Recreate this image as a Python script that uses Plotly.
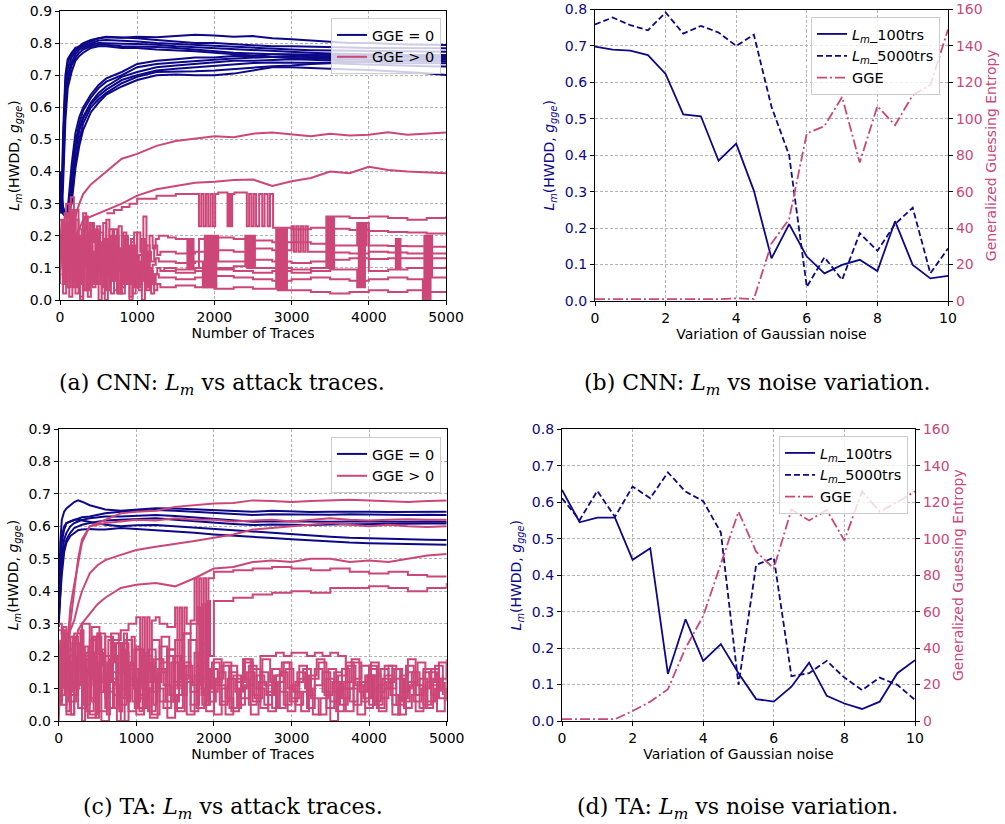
import plotly.graph_objects as go

# ---------------------------------------------------------------- colours
NAVY = "#0d0887"
PINK = "#cc4778"

# ---------------------------------------------------------------- x grids
# attack-trace axis, sampling grid for the smooth curves
XT = [0, 20, 40, 70, 100, 150, 200, 250, 300, 400, 500, 600, 800, 1000, 1250,
      1500, 1750, 2000, 2250, 2500, 2750, 3000, 3250, 3500, 3750, 4000, 4250,
      4500, 4750, 5000]
# dense grids for the unstable (step-like) runs in the first traces
XE1 = [0, 40, 80, 120, 160, 200, 240, 280, 320, 360, 400, 440, 480, 520, 560,
       600, 640, 680, 720, 760, 800, 840, 880, 920, 960, 1000, 1040, 1080,
       1120, 1160, 1200, 1240, 1280]
XE2 = [20, 60, 100, 140, 180, 220, 260, 300, 340, 380, 420, 460, 500, 540,
       580, 620, 660, 700, 740, 780, 820, 860, 900, 940, 980, 1020, 1060, 1100,
       1140, 1180, 1220, 1260, 1300]
XN1 = [0, 100, 200, 300, 400, 500, 600, 700, 800, 900, 1000, 1100, 1200, 1300,
       1400, 1500, 1600, 1700, 1800, 1900, 2000, 2100, 2200, 2300, 2400, 2500,
       2600, 2700, 2800, 2900, 3000, 3100, 3200, 3300, 3400, 3500, 3600, 3700,
       3800, 3900, 4000, 4100, 4200, 4300, 4400, 4500, 4600, 4700, 4800, 4900,
       5000]
XN2 = [50, 150, 250, 350, 450, 550, 650, 750, 850, 950, 1050, 1150, 1250, 1350,
       1450, 1550, 1650, 1750, 1850, 1950, 2050, 2150, 2250, 2350, 2450, 2550,
       2650, 2750, 2850, 2950, 3050, 3150, 3250, 3350, 3450, 3550, 3650, 3750,
       3850, 3950, 4050, 4150, 4250, 4350, 4450, 4550, 4650, 4750, 4850, 4950]
XN3 = [25, 125, 225, 325, 425, 525, 625, 725, 825, 925, 1025, 1125, 1225, 1325,
       1425, 1525, 1625, 1725, 1825, 1925, 2025, 2125, 2225, 2325, 2425, 2525,
       2625, 2725, 2825, 2925, 3025, 3125, 3225, 3325, 3425, 3525, 3625, 3725,
       3825, 3925, 4025, 4125, 4225, 4325, 4425, 4525, 4625, 4725, 4825, 4925]
XN4 = [75, 175, 275, 375, 475, 575, 675, 775, 875, 975, 1075, 1175, 1275, 1375,
       1475, 1575, 1675, 1775, 1875, 1975, 2075, 2175, 2275, 2375, 2475, 2575,
       2675, 2775, 2875, 2975, 3075, 3175, 3275, 3375, 3475, 3575, 3675, 3775,
       3875, 3975, 4075, 4175, 4275, 4375, 4475, 4575, 4675, 4775, 4875, 4975]
# noise-variation axis
XNOISE = [0, 0.5, 1, 1.5, 2, 2.5, 3, 3.5, 4, 4.5, 5, 5.5, 6, 6.5, 7, 7.5, 8,
          8.5, 9, 9.5, 10]

# ---------------------------------------------------------------- (a) CNN, GGE = 0
CNN_ZERO = [
    [0.36, 0.28, 0.52, 0.70, 0.75, 0.77, 0.785, 0.79, 0.80, 0.81, 0.815, 0.818, 0.817, 0.82, 0.818,
     0.822, 0.826, 0.824, 0.82, 0.822, 0.815, 0.812, 0.808, 0.805, 0.80, 0.80, 0.797, 0.796, 0.795, 0.794],
    [0.33, 0.27, 0.48, 0.68, 0.74, 0.765, 0.78, 0.79, 0.795, 0.805, 0.815, 0.82, 0.818, 0.815, 0.81,
     0.805, 0.80, 0.80, 0.797, 0.795, 0.79, 0.79, 0.788, 0.787, 0.786, 0.785, 0.785, 0.784, 0.784, 0.784],
    [0.38, 0.29, 0.45, 0.66, 0.72, 0.755, 0.775, 0.785, 0.79, 0.80, 0.808, 0.81, 0.808, 0.805, 0.80,
     0.797, 0.795, 0.79, 0.787, 0.785, 0.782, 0.78, 0.778, 0.777, 0.776, 0.775, 0.774, 0.774, 0.773, 0.773],
    [0.31, 0.27, 0.42, 0.62, 0.70, 0.74, 0.765, 0.78, 0.785, 0.795, 0.80, 0.80, 0.798, 0.797, 0.795,
     0.79, 0.787, 0.785, 0.78, 0.778, 0.775, 0.772, 0.77, 0.768, 0.766, 0.765, 0.764, 0.763, 0.763, 0.763],
    [0.34, 0.28, 0.40, 0.60, 0.68, 0.73, 0.755, 0.77, 0.78, 0.79, 0.795, 0.795, 0.79, 0.79, 0.788,
     0.785, 0.78, 0.775, 0.77, 0.768, 0.765, 0.762, 0.76, 0.758, 0.757, 0.756, 0.755, 0.754, 0.753, 0.753],
    [0.30, 0.27, 0.36, 0.56, 0.66, 0.71, 0.745, 0.76, 0.77, 0.785, 0.79, 0.79, 0.785, 0.785, 0.78,
     0.778, 0.775, 0.77, 0.765, 0.76, 0.757, 0.754, 0.752, 0.75, 0.748, 0.746, 0.745, 0.744, 0.743, 0.743],
    [0.40, 0.33, 0.29, 0.27, 0.28, 0.42, 0.52, 0.57, 0.60, 0.64, 0.67, 0.69, 0.71, 0.735, 0.745,
     0.75, 0.755, 0.755, 0.76, 0.76, 0.765, 0.765, 0.765, 0.763, 0.762, 0.76, 0.76, 0.76, 0.758, 0.757],
    [0.37, 0.31, 0.28, 0.265, 0.27, 0.38, 0.49, 0.55, 0.59, 0.63, 0.66, 0.68, 0.70, 0.725, 0.735,
     0.74, 0.745, 0.748, 0.752, 0.755, 0.757, 0.758, 0.757, 0.755, 0.753, 0.75, 0.748, 0.747, 0.745, 0.748],
    [0.35, 0.30, 0.27, 0.26, 0.265, 0.34, 0.46, 0.53, 0.57, 0.615, 0.645, 0.665, 0.695, 0.71, 0.725,
     0.73, 0.735, 0.74, 0.745, 0.745, 0.748, 0.75, 0.748, 0.745, 0.742, 0.74, 0.738, 0.737, 0.737, 0.737],
    [0.39, 0.32, 0.28, 0.27, 0.28, 0.36, 0.47, 0.53, 0.565, 0.61, 0.635, 0.655, 0.685, 0.70, 0.715,
     0.72, 0.725, 0.73, 0.735, 0.738, 0.74, 0.74, 0.74, 0.738, 0.735, 0.733, 0.73, 0.73, 0.728, 0.727],
    [0.33, 0.29, 0.27, 0.26, 0.26, 0.31, 0.43, 0.50, 0.55, 0.60, 0.625, 0.645, 0.675, 0.695, 0.71,
     0.71, 0.712, 0.715, 0.72, 0.725, 0.728, 0.73, 0.735, 0.737, 0.74, 0.742, 0.745, 0.747, 0.75, 0.753],
    [0.36, 0.30, 0.27, 0.26, 0.26, 0.30, 0.41, 0.48, 0.53, 0.585, 0.615, 0.64, 0.665, 0.685, 0.70,
     0.702, 0.70, 0.70, 0.705, 0.715, 0.725, 0.725, 0.722, 0.72, 0.718, 0.716, 0.713, 0.71, 0.706, 0.701],
]

# ---------------------------------------------------------------- (a) CNN, GGE > 0 (smooth runs)
CNN_POS_SMOOTH = [
    [0.05, 0.22, 0.08, 0.18, 0.12, 0.20, 0.26, 0.30, 0.33, 0.36, 0.38, 0.40, 0.44, 0.455, 0.48,
     0.495, 0.503, 0.51, 0.507, 0.518, 0.522, 0.515, 0.51, 0.518, 0.512, 0.515, 0.522, 0.515, 0.518, 0.522],
    [0.10, 0.25, 0.05, 0.20, 0.15, 0.24, 0.20, 0.22, 0.25, 0.26, 0.27, 0.28, 0.30, 0.325, 0.345,
     0.355, 0.365, 0.368, 0.374, 0.375, 0.355, 0.37, 0.38, 0.40, 0.395, 0.415, 0.405, 0.40, 0.397, 0.395],
]

# (a) CNN, GGE > 0 (unstable runs, drawn as steps)
CNN_P3_X = [600, 700, 800, 900, 1000, 1250, 1500, 1800, 1830, 1860, 1890, 1920, 1950, 1980, 2010,
            2050, 2170, 2190, 2210, 2230, 2260, 2420, 2450, 2480, 2510, 2540, 2580, 2620, 2650,
            2690, 2720, 2760, 3000, 3250, 3500, 3750, 4000, 4250, 4500, 4750, 5000]
CNN_P3_Y = [0.27, 0.28, 0.29, 0.30, 0.315, 0.325, 0.33, 0.23, 0.33, 0.23, 0.33, 0.23, 0.33, 0.23, 0.33,
            0.335, 0.23, 0.33, 0.23, 0.33, 0.335, 0.23, 0.33, 0.23, 0.33, 0.23, 0.33, 0.23, 0.33,
            0.23, 0.33, 0.225, 0.22, 0.225, 0.222, 0.218, 0.215, 0.212, 0.21, 0.207, 0.205]

CNN_N1_EARLY = [0.25, 0.05, 0.30, 0.12, 0.28, 0.02, 0.22, 0.15, 0.26, 0.08, 0.24, 0.18, 0.05, 0.21,
                0.12, 0.25, 0.07, 0.19, 0.14, 0.23, 0.04, 0.20, 0.11, 0.18, 0.06, 0.21, 0.15, 0.26,
                0.10, 0.20, 0.16, 0.19, 0.20]
CNN_N1_LATE_X = [1400, 1500, 1650, 1670, 1690, 1710, 1730, 1800, 2000, 2250, 2500, 2750, 3000, 3250,
                 3500, 3850, 3870, 3890, 3910, 3930, 3950, 3970, 4000, 4250, 4500, 4750, 5000]
CNN_N1_LATE_Y = [0.195, 0.19, 0.10, 0.19, 0.10, 0.19, 0.10, 0.19, 0.195, 0.19, 0.185, 0.18, 0.18, 0.175,
                 0.17, 0.24, 0.17, 0.24, 0.17, 0.24, 0.17, 0.24, 0.17, 0.168, 0.167, 0.166, 0.166]

CNN_N2_EARLY = [0.08, 0.27, 0.10, 0.32, 0.04, 0.20, 0.13, 0.27, 0.03, 0.17, 0.10, 0.22, 0.14, 0.02,
                0.19, 0.09, 0.20, 0.03, 0.16, 0.11, 0.21, 0.08, 0.17, 0.02, 0.14, 0.10, 0.19, 0.06,
                0.15, 0.12, 0.17, 0.14, 0.15]
CNN_N2_LATE_X = [1350, 1500, 1750, 2000, 2250, 2500, 2750, 3000, 3030, 3060, 3090, 3120, 3150, 3180,
                 3210, 3250, 3500, 3750, 4000, 4250, 4500, 4750, 5000]
CNN_N2_LATE_Y = [0.15, 0.145, 0.15, 0.155, 0.15, 0.16, 0.155, 0.23, 0.15, 0.23, 0.15, 0.23, 0.15, 0.23,
                 0.15, 0.15, 0.148, 0.145, 0.15, 0.148, 0.145, 0.145, 0.145]

CNN_N3_EARLY = [0.15, 0.02, 0.24, 0.06, 0.18, 0.28, 0.05, 0.12, 0.20, 0.01, 0.15, 0.07, 0.23, 0.10,
                0.04, 0.16, 0.22, 0.06, 0.12, 0.02, 0.15, 0.19, 0.05, 0.13, 0.21, 0.04, 0.12, 0.08,
                0.17, 0.05, 0.11, 0.13, 0.12]
CNN_N3_LATE_X = [1350, 1500, 1750, 1850, 1875, 1900, 1925, 1950, 1975, 2000, 2025, 2050, 2250, 2500,
                 2750, 3000, 3250, 3500, 3750, 4000, 4250, 4500, 4750, 5000]
CNN_N3_LATE_Y = [0.12, 0.115, 0.12, 0.04, 0.20, 0.04, 0.20, 0.04, 0.20, 0.04, 0.20, 0.12, 0.12, 0.125,
                 0.12, 0.115, 0.12, 0.125, 0.13, 0.128, 0.13, 0.13, 0.13, 0.13]

CNN_N4_EARLY = [0.20, 0.12, 0.04, 0.26, 0.09, 0.16, 0.00, 0.19, 0.11, 0.24, 0.06, 0.14, 0.00, 0.18,
                0.08, 0.13, 0.02, 0.20, 0.09, 0.16, 0.05, 0.12, 0.00, 0.17, 0.09, 0.03, 0.13, 0.05,
                0.10, 0.02, 0.08, 0.10, 0.09]
CNN_N4_LATE_X = [1350, 1500, 1750, 2000, 2250, 2400, 2425, 2450, 2475, 2500, 2525, 2750, 3000, 3250,
                 3450, 3475, 3500, 3525, 3550, 3750, 4000, 4250, 4500, 4750, 5000]
CNN_N4_LATE_Y = [0.10, 0.095, 0.10, 0.10, 0.105, 0.20, 0.10, 0.20, 0.10, 0.20, 0.10, 0.10, 0.095, 0.10,
                 0.26, 0.10, 0.26, 0.10, 0.26, 0.255, 0.26, 0.255, 0.25, 0.255, 0.26]

CNN_N5_EARLY = [0.18, 0.06, 0.22, 0.01, 0.14, 0.25, 0.09, 0.17, 0.03, 0.21, 0.12, 0.05, 0.18, 0.09,
                0.24, 0.03, 0.13, 0.07, 0.20, 0.10, 0.02, 0.15, 0.07, 0.19, 0.04, 0.11, 0.06, 0.16,
                0.03, 0.09, 0.05, 0.08, 0.07]
CNN_N5_LATE_X = [1350, 1500, 1750, 2000, 2250, 2500, 2750, 3000, 3250, 3500, 3750, 4000, 4250, 4500,
                 4700, 4720, 4740, 4760, 4780, 4800, 4820, 5000]
CNN_N5_LATE_Y = [0.07, 0.065, 0.07, 0.075, 0.07, 0.065, 0.06, 0.065, 0.07, 0.065, 0.06, 0.065, 0.07,
                 0.065, 0.00, 0.20, 0.00, 0.20, 0.00, 0.20, 0.07, 0.07]

CNN_N6_EARLY = [0.05, 0.20, 0.12, 0.28, 0.06, 0.16, 0.01, 0.23, 0.10, 0.15, 0.04, 0.19, 0.08, 0.13,
                0.00, 0.17, 0.06, 0.22, 0.02, 0.12, 0.07, 0.16, 0.01, 0.10, 0.05, 0.14, 0.00, 0.08,
                0.04, 0.06, 0.03, 0.05, 0.04]
CNN_N6_LATE_X = [1350, 1500, 1750, 2000, 2250, 2500, 2800, 2820, 2840, 2860, 2880, 2900, 2920, 2940,
                 3250, 3500, 3750, 4000, 4250, 4500, 4750, 5000]
CNN_N6_LATE_Y = [0.04, 0.045, 0.04, 0.035, 0.04, 0.035, 0.22, 0.03, 0.22, 0.03, 0.22, 0.03, 0.22, 0.03,
                 0.025, 0.02, 0.025, 0.03, 0.025, 0.03, 0.025, 0.025]

CNN_N7_X = [1300, 1500, 1750, 2000, 2250, 2500, 2750, 3000, 3250, 3500, 3850, 3870, 3890, 3910, 3930,
            3950, 4000, 4250, 4350, 4370, 4390, 4410, 4500, 4750, 5000]
CNN_N7_Y = [0.09, 0.085, 0.09, 0.095, 0.09, 0.085, 0.09, 0.085, 0.09, 0.095, 0.04, 0.22, 0.04, 0.22,
            0.04, 0.22, 0.09, 0.095, 0.19, 0.095, 0.19, 0.095, 0.10, 0.10, 0.104]

# ---------------------------------------------------------------- (c) TA, GGE = 0
TA_ZERO = [
    [0.30, 0.55, 0.62, 0.645, 0.655, 0.665, 0.675, 0.68, 0.676, 0.665, 0.658, 0.652, 0.648, 0.652, 0.656,
     0.655, 0.652, 0.65, 0.648, 0.645, 0.648, 0.646, 0.644, 0.645, 0.646, 0.645, 0.644, 0.645, 0.646, 0.645],
    [0.35, 0.45, 0.55, 0.59, 0.61, 0.615, 0.62, 0.625, 0.628, 0.63, 0.635, 0.64, 0.645, 0.648, 0.65,
     0.648, 0.645, 0.642, 0.64, 0.635, 0.637, 0.636, 0.635, 0.636, 0.637, 0.636, 0.635, 0.635, 0.636, 0.635],
    [0.29, 0.40, 0.50, 0.56, 0.58, 0.60, 0.61, 0.615, 0.62, 0.625, 0.628, 0.63, 0.63, 0.632, 0.635,
     0.632, 0.628, 0.624, 0.62, 0.614, 0.616, 0.615, 0.613, 0.614, 0.615, 0.614, 0.613, 0.614, 0.615, 0.614],
    [0.33, 0.42, 0.48, 0.53, 0.56, 0.58, 0.595, 0.60, 0.605, 0.61, 0.615, 0.618, 0.62, 0.622, 0.625,
     0.62, 0.615, 0.61, 0.607, 0.604, 0.606, 0.605, 0.604, 0.606, 0.607, 0.608, 0.607, 0.608, 0.609, 0.609],
    [0.38, 0.50, 0.57, 0.60, 0.61, 0.615, 0.62, 0.62, 0.618, 0.612, 0.608, 0.605, 0.60, 0.603, 0.604,
     0.60, 0.595, 0.59, 0.587, 0.584, 0.58, 0.575, 0.572, 0.568, 0.565, 0.563, 0.562, 0.56, 0.559, 0.558],
    [0.31, 0.38, 0.45, 0.52, 0.55, 0.57, 0.58, 0.588, 0.59, 0.592, 0.59, 0.59, 0.595, 0.592, 0.589,
     0.585, 0.58, 0.575, 0.572, 0.568, 0.564, 0.56, 0.556, 0.553, 0.55, 0.548, 0.547, 0.545, 0.544, 0.543],
]

# ---------------------------------------------------------------- (c) TA, GGE > 0 (smooth runs)
TA_POS_SMOOTH = [
    [0.10, 0.25, 0.15, 0.28, 0.20, 0.35, 0.42, 0.48, 0.55, 0.60, 0.61, 0.62, 0.64, 0.645, 0.648,
     0.66, 0.665, 0.67, 0.672, 0.68, 0.678, 0.675, 0.678, 0.68, 0.682, 0.68, 0.677, 0.675, 0.678, 0.68],
    [0.05, 0.20, 0.10, 0.25, 0.15, 0.30, 0.40, 0.50, 0.56, 0.60, 0.605, 0.61, 0.615, 0.62, 0.618,
     0.625, 0.62, 0.62, 0.615, 0.618, 0.62, 0.615, 0.62, 0.625, 0.62, 0.618, 0.62, 0.622, 0.62, 0.62],
    [0.12, 0.05, 0.20, 0.10, 0.22, 0.28, 0.31, 0.36, 0.40, 0.455, 0.48, 0.496, 0.512, 0.527, 0.537,
     0.545, 0.555, 0.565, 0.575, 0.59, 0.595, 0.60, 0.605, 0.61, 0.605, 0.60, 0.605, 0.60, 0.598, 0.60],
    [0.00, 0.12, 0.05, 0.18, 0.10, 0.15, 0.22, 0.28, 0.30, 0.33, 0.36, 0.38, 0.41, 0.42, 0.425,
     0.415, 0.44, 0.47, 0.475, 0.49, 0.495, 0.49, 0.50, 0.50, 0.49, 0.495, 0.49, 0.50, 0.51, 0.515],
]

# (c) TA, GGE > 0 (unstable runs, drawn as steps)
TA_P5_X = [600, 700, 800, 900, 1000, 1050, 1080, 1110, 1140, 1170, 1200, 1250, 1300, 1400, 1500, 1530,
           1560, 1590, 1620, 1650, 1700, 1750, 1780, 1810, 1840, 1870, 1900, 1930, 2000, 2250, 2500,
           2750, 3000, 3250, 3500, 3750, 4000, 4250, 4500, 4750, 5000]
TA_P5_Y = [0.20, 0.25, 0.28, 0.30, 0.32, 0.12, 0.32, 0.10, 0.32, 0.15, 0.31, 0.32, 0.30, 0.29, 0.35, 0.10,
           0.35, 0.08, 0.35, 0.30, 0.31, 0.44, 0.05, 0.44, 0.08, 0.44, 0.05, 0.44, 0.46, 0.465, 0.47,
           0.475, 0.47, 0.465, 0.47, 0.46, 0.455, 0.46, 0.45, 0.445, 0.445]
TA_P6_X = [1300, 1400, 1500, 1600, 1700, 1800, 1830, 1860, 1890, 1920, 1950, 2000, 2250, 2500, 2750,
           3000, 3250, 3500, 3750, 4000, 4250, 4500, 4750, 5000]
TA_P6_Y = [0.18, 0.22, 0.25, 0.27, 0.30, 0.35, 0.15, 0.36, 0.12, 0.37, 0.20, 0.37, 0.38, 0.39, 0.395,
           0.40, 0.395, 0.41, 0.41, 0.415, 0.41, 0.40, 0.41, 0.425]

TA_N1 = [0.28, 0.10, 0.27, 0.05, 0.25, 0.12, 0.26, 0.08, 0.24, 0.03, 0.22,
         0.10, 0.25, 0.06, 0.20, 0.12, 0.27, 0.05, 0.18, 0.10, 0.19,
         0.06, 0.17, 0.12, 0.19, 0.08, 0.20, 0.20, 0.21, 0.20, 0.21,
         0.21, 0.20, 0.21, 0.20, 0.21, 0.20, 0.10, 0.18, 0.06, 0.16,
         0.09, 0.17, 0.05, 0.14, 0.19, 0.08, 0.16, 0.11, 0.18, 0.06]
TA_N2 = [0.05, 0.22, 0.15, 0.30, 0.02, 0.18, 0.09, 0.24, 0.00, 0.16, 0.08,
         0.20, 0.02, 0.15, 0.22, 0.04, 0.14, 0.09, 0.21, 0.03, 0.12,
         0.17, 0.04, 0.13, 0.18, 0.06, 0.15, 0.03, 0.12, 0.18, 0.07,
         0.13, 0.04, 0.16, 0.09, 0.00, 0.14, 0.18, 0.05, 0.12, 0.17,
         0.04, 0.10, 0.16, 0.07, 0.12, 0.03, 0.15, 0.08, 0.13, 0.19]
TA_N3 = [0.18, 0.02, 0.12, 0.20, 0.07, 0.27, 0.04, 0.15, 0.21, 0.11, 0.02,
         0.16, 0.09, 0.23, 0.01, 0.11, 0.18, 0.03, 0.13, 0.16, 0.02,
         0.10, 0.15, 0.05, 0.11, 0.16, 0.04, 0.09, 0.14, 0.05, 0.11,
         0.17, 0.08, 0.11, 0.15, 0.06, 0.10, 0.03, 0.13, 0.17, 0.05,
         0.11, 0.14, 0.02, 0.09, 0.15, 0.11, 0.05, 0.16, 0.07, 0.10]
TA_N4 = [0.12, 0.26, 0.04, 0.21, 0.14, 0.00, 0.19, 0.10, 0.25, 0.06,
         0.15, 0.03, 0.19, 0.11, 0.06, 0.17, 0.02, 0.14, 0.08, 0.16,
         0.11, 0.02, 0.14, 0.07, 0.17, 0.10, 0.05, 0.16, 0.09, 0.03,
         0.12, 0.16, 0.07, 0.02, 0.13, 0.09, 0.16, 0.06, 0.12, 0.04,
         0.14, 0.07, 0.17, 0.05, 0.10, 0.15, 0.04, 0.12, 0.17, 0.08]
TA_N5 = [0.22, 0.08, 0.17, 0.03, 0.26, 0.09, 0.13, 0.00, 0.17, 0.12,
         0.07, 0.22, 0.10, 0.04, 0.18, 0.08, 0.12, 0.21, 0.05, 0.09,
         0.15, 0.07, 0.04, 0.13, 0.05, 0.14, 0.11, 0.04, 0.15, 0.10,
         0.05, 0.09, 0.13, 0.18, 0.04, 0.15, 0.07, 0.10, 0.02, 0.14,
         0.06, 0.16, 0.10, 0.13, 0.04, 0.08, 0.13, 0.06, 0.10, 0.14]
TA_N6 = [0.30, 0.08, 0.26, 0.15, 0.02, 0.24, 0.11, 0.28, 0.05, 0.19, 0.13, 0.26, 0.01, 0.17, 0.22,
         0.07, 0.25, 0.12, 0.04, 0.20, 0.15, 0.27, 0.06, 0.18, 0.10, 0.23, 0.03, 0.16, 0.21, 0.09,
         0.17, 0.12, 0.15]
TA_N7 = [0.14, 0.29, 0.03, 0.20, 0.26, 0.10, 0.17, 0.00, 0.23, 0.14, 0.06, 0.21, 0.27, 0.09, 0.15,
         0.02, 0.19, 0.24, 0.11, 0.03, 0.22, 0.08, 0.17, 0.26, 0.04, 0.13, 0.20, 0.07, 0.12, 0.18,
         0.05, 0.14, 0.10]
TA_N8 = [0.27, 0.06, 0.20, 0.11, 0.29, 0.03, 0.18, 0.24, 0.07, 0.16,
         0.04, 0.19, 0.12, 0.26, 0.08, 0.03, 0.17, 0.11, 0.24, 0.06,
         0.13, 0.18, 0.03, 0.10, 0.15, 0.07, 0.19, 0.12, 0.04, 0.16,
         0.09, 0.03, 0.14, 0.19, 0.08, 0.12, 0.05, 0.17, 0.11, 0.07,
         0.18, 0.03, 0.12, 0.16, 0.06, 0.11, 0.18, 0.04, 0.13, 0.09]
TA_N9 = [0.09, 0.24, 0.16, 0.01, 0.21, 0.12, 0.27, 0.05, 0.13, 0.22,
         0.10, 0.01, 0.16, 0.06, 0.20, 0.13, 0.25, 0.04, 0.10, 0.18,
         0.05, 0.13, 0.09, 0.19, 0.02, 0.12, 0.08, 0.14, 0.18, 0.06,
         0.15, 0.10, 0.02, 0.07, 0.16, 0.03, 0.12, 0.19, 0.09, 0.14,
         0.05, 0.13, 0.08, 0.02, 0.17, 0.06, 0.10, 0.15, 0.03, 0.12]

# ---------------------------------------------------------------- (b) CNN vs noise
CNN_L100 = [0.698, 0.690, 0.687, 0.675, 0.623, 0.512, 0.507, 0.385, 0.432, 0.303, 0.117,
            0.211, 0.122, 0.076, 0.099, 0.113, 0.082, 0.219, 0.099, 0.062, 0.069]
CNN_L5000 = [0.759, 0.778, 0.757, 0.743, 0.792, 0.734, 0.755, 0.737, 0.700, 0.731, 0.533,
             0.400, 0.039, 0.120, 0.058, 0.186, 0.138, 0.211, 0.256, 0.076, 0.144]
CNN_GGE = [1, 1, 1, 1, 1, 1, 1, 1, 1.5, 1.1, 31.6, 45, 92, 96, 112, 76, 107, 96.5, 113, 118.5, 149]

# ---------------------------------------------------------------- (d) TA vs noise
TA_L100 = [0.634, 0.545, 0.558, 0.558, 0.442, 0.474, 0.129, 0.279, 0.165, 0.211, 0.131,
           0.060, 0.053, 0.094, 0.160, 0.069, 0.048, 0.033, 0.053, 0.131, 0.167]
TA_L5000 = [0.611, 0.551, 0.631, 0.560, 0.643, 0.611, 0.682, 0.629, 0.603, 0.517, 0.099,
            0.428, 0.448, 0.123, 0.131, 0.165, 0.119, 0.085, 0.119, 0.099, 0.058]
TA_GGE = [1, 1, 1, 1, 5.5, 10.6, 17.4, 40, 57.6, 86.5, 114.8, 92.9, 83.7, 116, 110, 115.7,
          99, 126, 114.8, 120, 126]

# ---------------------------------------------------------------- figure
fig = go.Figure()
LW = 2.0


def add_line(x, y, color, xa, ya, legend, name=None, show=False, shape="linear",
             width=LW, dash="solid"):
    fig.add_trace(go.Scatter(
        x=x, y=y, mode="lines", xaxis=xa, yaxis=ya, legend=legend,
        name=name, showlegend=show, hoverinfo="skip",
        line=dict(color=color, width=width, shape=shape, dash=dash)))


# (a) attack traces, CNN
for i, ys in enumerate(CNN_ZERO):
    add_line(XT, ys, NAVY, "x", "y", "legend", "GGE = 0", show=(i == 0))
first = True
for ys in CNN_POS_SMOOTH:
    add_line(XT, ys, PINK, "x", "y", "legend", "GGE > 0", show=first)
    first = False
add_line(CNN_P3_X, CNN_P3_Y, PINK, "x", "y", "legend", shape="hv")
add_line(XE1 + CNN_N1_LATE_X, CNN_N1_EARLY + CNN_N1_LATE_Y, PINK, "x", "y", "legend", shape="hv")
add_line(XE2 + CNN_N2_LATE_X, CNN_N2_EARLY + CNN_N2_LATE_Y, PINK, "x", "y", "legend", shape="hv")
add_line(XE1 + CNN_N3_LATE_X, CNN_N3_EARLY + CNN_N3_LATE_Y, PINK, "x", "y", "legend", shape="hv")
add_line(XE2 + CNN_N4_LATE_X, CNN_N4_EARLY + CNN_N4_LATE_Y, PINK, "x", "y", "legend", shape="hv")
add_line(XE1 + CNN_N5_LATE_X, CNN_N5_EARLY + CNN_N5_LATE_Y, PINK, "x", "y", "legend", shape="hv")
add_line(XE2 + CNN_N6_LATE_X, CNN_N6_EARLY + CNN_N6_LATE_Y, PINK, "x", "y", "legend", shape="hv")
add_line(CNN_N7_X, CNN_N7_Y, PINK, "x", "y", "legend", shape="hv")

# (c) attack traces, TA
for i, ys in enumerate(TA_ZERO):
    add_line(XT, ys, NAVY, "x3", "y4", "legend3", "GGE = 0", show=(i == 0))
first = True
for ys in TA_POS_SMOOTH:
    add_line(XT, ys, PINK, "x3", "y4", "legend3", "GGE > 0", show=first)
    first = False
add_line(TA_P5_X, TA_P5_Y, PINK, "x3", "y4", "legend3", shape="hv")
add_line(TA_P6_X, TA_P6_Y, PINK, "x3", "y4", "legend3", shape="hv")
for ys in (TA_N1, TA_N2, TA_N3):
    add_line(XN1, ys, PINK, "x3", "y4", "legend3", shape="hv")
for ys in (TA_N4, TA_N5):
    add_line(XN2, ys, PINK, "x3", "y4", "legend3", shape="hv")
add_line(XN3, TA_N8, PINK, "x3", "y4", "legend3", shape="hv")
add_line(XN4, TA_N9, PINK, "x3", "y4", "legend3", shape="hv")
add_line(XE1, TA_N6, PINK, "x3", "y4", "legend3", shape="hv")
add_line(XE2, TA_N7, PINK, "x3", "y4", "legend3", shape="hv")

# (b) / (d) noise variation
LM100 = "<i>L</i><sub><i>m</i></sub>_100trs"
LM5000 = "<i>L</i><sub><i>m</i></sub>_5000trs"
for xa, ya, yr, lg, l100, l5000, gge in (
        ("x2", "y2", "y3", "legend2", CNN_L100, CNN_L5000, CNN_GGE),
        ("x4", "y5", "y6", "legend4", TA_L100, TA_L5000, TA_GGE)):
    add_line(XNOISE, l100, NAVY, xa, ya, lg, LM100, show=True, width=1.8)
    add_line(XNOISE, l5000, NAVY, xa, ya, lg, LM5000, show=True, width=1.8, dash="6px,3px")
    add_line(XNOISE, gge, PINK, xa, yr, lg, "GGE", show=True, width=1.8,
             dash="10px,3px,2px,3px")

# ---------------------------------------------------------------- axes
TICKFONT = dict(family="DejaVu Sans", size=14, color="black")
TITLEFONT = dict(family="DejaVu Sans", size=14, color="black")
YTITLE = "<i>L</i><sub><i>m</i></sub>(HWDD, <i>g</i><sub><i>gge</i></sub>)"


def axis(**kw):
    base = dict(showline=True, linecolor="black", linewidth=1.2, mirror=True,
                ticks="outside", ticklen=4, tickwidth=1, tickcolor="black",
                showgrid=True, gridcolor="#b4b4b4", griddash="3px,2px", gridwidth=0.8,
                zeroline=False, tickfont=TICKFONT, automargin=False)
    base.update(kw)
    return base


W, H = 1005, 824


def xd(a, b):
    return [a / W, b / W]


def yd(top, bottom):
    return [(H - bottom) / H, (H - top) / H]


fig.update_layout(
    width=W, height=H, margin=dict(l=0, r=0, t=0, b=0),
    paper_bgcolor="white", plot_bgcolor="white",
    font=dict(family="DejaVu Sans", size=14, color="black"),
    xaxis=axis(domain=xd(60, 446), anchor="y", range=[0, 5000], dtick=1000,
               title=dict(text="Number of Traces", font=TITLEFONT, standoff=4)),
    yaxis=axis(domain=yd(11, 300), anchor="x", range=[0, 0.9], dtick=0.1, tickformat=".1f",
               title=dict(text=YTITLE, font=TITLEFONT, standoff=6)),
    xaxis2=axis(domain=xd(595, 948), anchor="y2", range=[0, 10], dtick=2,
                title=dict(text="Variation of Gaussian noise", font=TITLEFONT, standoff=4)),
    yaxis2=axis(domain=yd(9.5, 301), anchor="x2", range=[0, 0.8], dtick=0.1, tickformat=".1f",
                tickfont=dict(family="DejaVu Sans", size=14, color=NAVY),
                title=dict(text=YTITLE, font=dict(family="DejaVu Sans", size=14, color=NAVY),
                           standoff=6)),
    yaxis3=axis(overlaying="y2", side="right", anchor="x2", range=[0, 160], dtick=20,
                showgrid=False, tickfont=dict(family="DejaVu Sans", size=14, color=PINK),
                title=dict(text="Generalized Guessing Entropy",
                           font=dict(family="DejaVu Sans", size=14, color=PINK), standoff=4)),
    xaxis3=axis(domain=xd(58.7, 446.7), anchor="y4", range=[0, 5000], dtick=1000,
                title=dict(text="Number of Traces", font=TITLEFONT, standoff=4)),
    yaxis4=axis(domain=yd(429, 721), anchor="x3", range=[0, 0.9], dtick=0.1, tickformat=".1f",
                title=dict(text=YTITLE, font=TITLEFONT, standoff=6)),
    xaxis4=axis(domain=xd(562, 915), anchor="y5", range=[0, 10], dtick=2,
                title=dict(text="Variation of Gaussian noise", font=TITLEFONT, standoff=4)),
    yaxis5=axis(domain=yd(429.3, 721), anchor="x4", range=[0, 0.8], dtick=0.1, tickformat=".1f",
                tickfont=dict(family="DejaVu Sans", size=14, color=NAVY),
                title=dict(text=YTITLE, font=dict(family="DejaVu Sans", size=14, color=NAVY),
                           standoff=6)),
    yaxis6=axis(overlaying="y5", side="right", anchor="x4", range=[0, 160], dtick=20,
                showgrid=False, tickfont=dict(family="DejaVu Sans", size=14, color=PINK),
                title=dict(text="Generalized Guessing Entropy",
                           font=dict(family="DejaVu Sans", size=14, color=PINK), standoff=4)),
)

LEG = dict(xanchor="right", yanchor="top", bgcolor="rgba(255,255,255,0.8)",
           bordercolor="#cccccc", borderwidth=1, font=dict(family="DejaVu Sans", size=14.5),
           tracegroupgap=0, itemwidth=30)
fig.update_layout(
    legend=dict(LEG, x=441 / W, y=(H - 18) / H),
    legend2=dict(LEG, x=940 / W, y=(H - 17) / H),
    legend3=dict(LEG, x=441 / W, y=(H - 437) / H),
    legend4=dict(LEG, x=908 / W, y=(H - 436) / H),
)

# ---------------------------------------------------------------- sub-captions
CAPFONT = dict(family="DejaVu Serif", size=22, color="black")
LM = "<i>L</i><sub><i>m</i></sub>"
for text, cx, cy in (
        (f"(a) CNN: {LM} vs attack traces.", 222, 385),
        (f"(b) CNN: {LM} vs noise variation.", 757, 385),
        (f"(c) TA: {LM} vs attack traces.", 233, 808),
        (f"(d) TA: {LM} vs noise variation.", 737, 808)):
    fig.add_annotation(text=text, x=cx / W, y=(H - cy) / H, xref="paper", yref="paper",
                       showarrow=False, font=CAPFONT, xanchor="center", yanchor="middle")

fig.write_html("out.html")
